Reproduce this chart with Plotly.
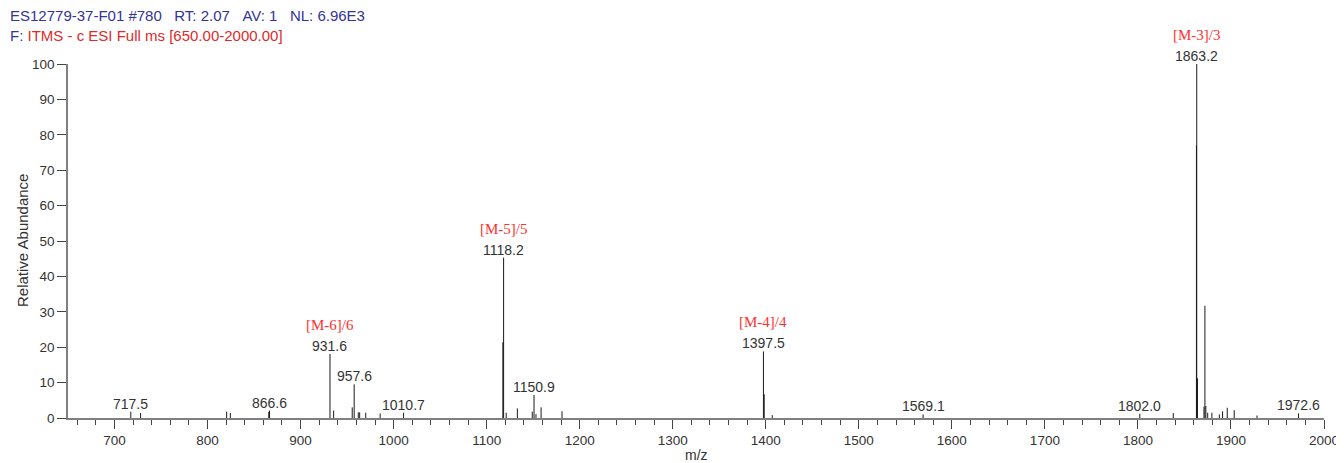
import plotly.graph_objects as go

# ---- data (m/z, relative abundance) ----
mz = [717.5, 728.0, 820.5, 824.5, 865.8, 866.6,
      931.6, 935.5, 955.5, 957.6, 962.0, 963.5, 970.0, 985.5, 1010.7,
      1117.4, 1118.2, 1121.0, 1133.0, 1149.0, 1150.9, 1153.0, 1158.5, 1181.0,
      1397.5, 1398.3, 1407.0, 1569.1,
      1802.0, 1838.0, 1862.9, 1863.2, 1864.0, 1871.0, 1872.0, 1873.0, 1875.0,
      1879.5, 1887.5, 1891.0, 1896.0, 1903.5, 1928.0, 1972.6]
intensity = [1.8, 1.4, 1.8, 1.4, 1.7, 2.1,
             18.1, 2.1, 3.0, 9.5, 1.6, 1.6, 1.5, 1.3, 1.5,
             21.4, 45.3, 1.5, 2.7, 1.8, 6.5, 1.1, 3.0, 1.9,
             18.8, 6.7, 0.8, 1.0,
             1.2, 1.4, 77.0, 100.0, 11.2, 3.2, 31.7, 3.4, 1.5,
             1.5, 1.0, 1.9, 2.9, 2.2, 0.7, 1.3]

label_mz = [717.5, 866.6, 931.6, 957.6, 1010.7, 1118.2, 1150.9, 1397.5, 1569.1, 1802.0, 1863.2, 1972.6]
ion_mz = [931.6, 1118.2, 1397.5, 1863.2]
ion_text = ["[M-6]/6", "[M-5]/5", "[M-4]/4", "[M-3]/3"]

NB = "\u00a0"
header1 = "ES12779-37-F01 #780" + NB * 3 + "RT: 2.07" + NB * 3 + "AV: 1" + NB * 3 + "NL: 6.96E3"
header2a = "F: "
header2b = "ITMS - c ESI Full ms [650.00-2000.00]"

x_title = "m/z"
y_title = "Relative Abundance"

# ---- build stick spectrum ----
xs, ys = [], []
for m, h in zip(mz, intensity):
    xs += [m, m, None]
    ys += [0, h, None]

peak_of = dict(zip(mz, intensity))

SANS = "Liberation Sans, Arial, sans-serif"
SERIF = "Liberation Serif, Times New Roman, serif"

fig = go.Figure()
fig.add_trace(go.Scatter(x=xs, y=ys, mode="lines",
                         line=dict(color="#1a1a1a", width=1),
                         hoverinfo="skip", showlegend=False))

ann = []
for m in label_mz:
    ann.append(dict(x=m, y=peak_of[m], xref="x", yref="y", text=f"{m:.1f}",
                    showarrow=False, yanchor="bottom", xanchor="center", yshift=-2,
                    font=dict(family=SANS, size=14, color="#333333")))
for m, t in zip(ion_mz, ion_text):
    ann.append(dict(x=m, y=peak_of[m], xref="x", yref="y", text=t,
                    showarrow=False, yanchor="bottom", xanchor="center", yshift=19,
                    font=dict(family=SERIF, size=15, color="#ff3030")))

# page-pixel positioned texts (converted below)
page_ann = []
page_ann.append(dict(x=8, y=16, text=header1, xanchor="left", yanchor="middle",
                     font=dict(family=SANS, size=15, color="#333399")))
page_ann.append(dict(x=8, y=35.5,
                     text=header2a + "<span style='color:#dd2a2a'>" + header2b + "</span>",
                     xanchor="left", yanchor="middle",
                     font=dict(family=SANS, size=15, color="#333399")))
page_ann.append(dict(x=696, y=455, text=x_title, xanchor="center", yanchor="middle",
                     font=dict(family=SANS, size=14, color="#333333")))
page_ann.append(dict(x=22, y=241, text=y_title, xanchor="center", yanchor="middle",
                     textangle=-90, font=dict(family=SANS, size=15, color="#333333")))

# page has an 8px body margin: lay the figure out in page pixels
OFF = 8
W, H = 1344 - OFF, 463 - OFF
PL, PR, PT, PB = 68, 1324, 64, 418  # plot area in page pixels
L, T = PL - OFF, PT - OFF
R, B = W - (PR - OFF), H - (PB - OFF)
pw, ph = W - L - R, H - T - B
for a in page_ann:
    a["x"] = (a["x"] - PL) / pw
    a["y"] = (PB - a["y"]) / ph
    a.update(xref="paper", yref="paper", showarrow=False)
ann += page_ann

fig.update_layout(
    width=W, height=H,
    margin=dict(l=L, r=R, t=T, b=B, autoexpand=False),
    paper_bgcolor="white", plot_bgcolor="white",
    annotations=ann,
    font=dict(family=SANS, size=13, color="#333333"),
    xaxis=dict(range=[650, 2000], tickmode="linear", tick0=700, dtick=100,
               automargin=False,
               showline=True, linecolor="#808080", linewidth=1.5,
               ticks="outside", ticklen=9, tickwidth=1.2, tickcolor="#444444",
               minor=dict(dtick=20, tick0=700, ticks="outside", ticklen=5,
                          tickwidth=1.2, tickcolor="#444444"),
               showgrid=False, zeroline=False,
               tickfont=dict(family=SANS, size=13.5, color="#333333")),
    yaxis=dict(range=[0, 100], tickmode="linear", tick0=0, dtick=10,
               automargin=False,
               showline=True, linecolor="#808080", linewidth=1.5,
               ticks="outside", ticklen=9, tickwidth=1.2, tickcolor="#444444",
               showgrid=False, zeroline=False,
               tickfont=dict(family=SANS, size=13.5, color="#333333")),
)

fig.write_html("out.html")
